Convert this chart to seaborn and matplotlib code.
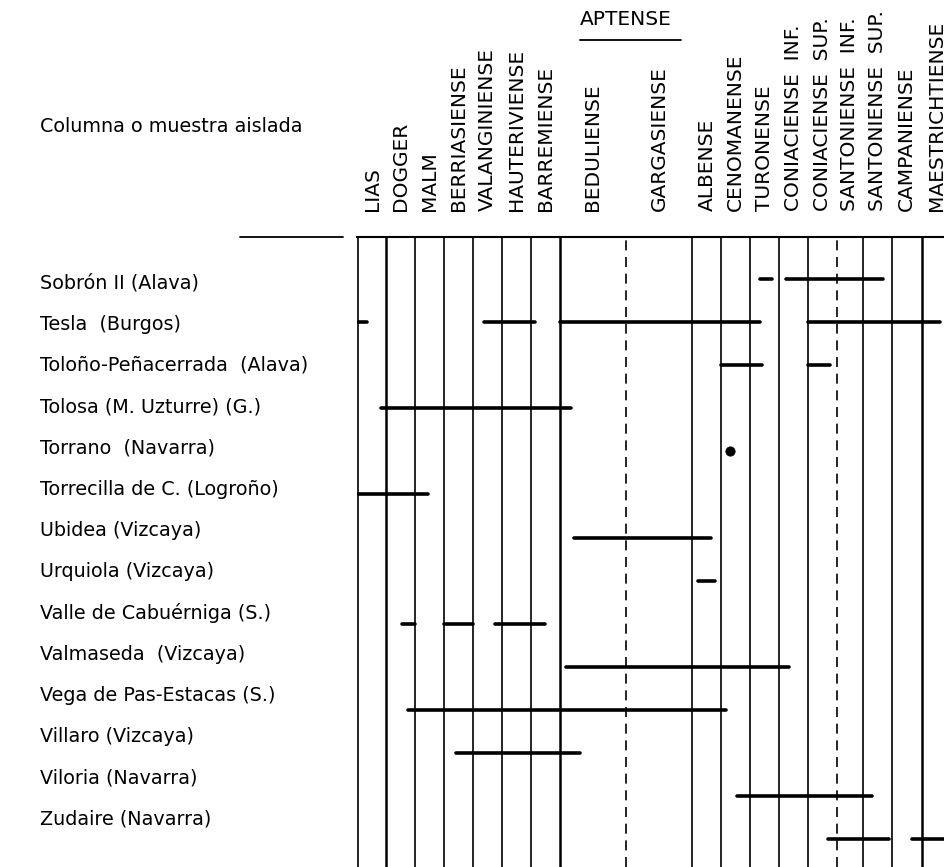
import numpy as np
import pandas as pd
import seaborn as sns
from matplotlib import pyplot as plt

# stages (columns) and their relative widths
stages = ['LIAS', 'DOGGER', 'MALM', 'BERRIASIENSE', 'VALANGINIENSE',
          'HAUTERIVIENSE', 'BARREMIENSE', 'BEDULIENSE', 'GARGASIENSE',
          'ALBENSE', 'CENOMANENSE', 'TURONENSE', 'CONIACIENSE  INF.',
          'CONIACIENSE  SUP.', 'SANTONIENSE  INF.', 'SANTONIENSE  SUP.',
          'CAMPANIENSE', 'MAESTRICHTIENSE']
stage_width = [1, 1, 1, 1, 1, 1, 1, 2.3, 2.3, 1, 1, 1, 1, 1, 0.9, 1, 1.05, 1]

sites = ['Sobrón II (Alava)', 'Tesla  (Burgos)', 'Toloño-Peñacerrada  (Alava)',
         'Tolosa (M. Uzturre) (G.)', 'Torrano  (Navarra)',
         'Torrecilla de C. (Logroño)', 'Ubidea (Vizcaya)', 'Urquiola (Vizcaya)',
         'Valle de Cabuérniga (S.)', 'Valmaseda  (Vizcaya)',
         'Vega de Pas-Estacas (S.)', 'Villaro (Vizcaya)', 'Viloria (Navarra)',
         'Zudaire (Navarra)']

# range segments: site index, start, end (in stage units)
seg_site = [0, 0, 1, 1, 1, 1, 2, 2, 3, 5, 6, 7, 8, 8, 8, 9, 10, 11, 12, 13, 13]
seg_start = [13.93, 14.84, 0.0, 4.38, 7.0, 15.6, 12.6, 15.6, 0.80, 0.0, 7.50,
             11.78, 1.53, 3.0, 4.75, 7.21, 1.74, 3.40, 13.16, 16.3, 19.2]
seg_end = [14.36, 18.2, 0.32, 6.14, 13.94, 20.17, 14.0, 16.37, 7.38, 2.45, 12.26,
           12.38, 2.0, 4.0, 6.51, 14.93, 12.78, 7.70, 17.83, 18.4, 20.35]

# isolated sample points
dot_site = [4]
dot_x = [12.91]

bounds = np.concatenate([[0], np.cumsum(stage_width)])
centers = (bounds[:-1] + bounds[1:]) / 2
dashed = [8, 14]
thick = [1, 7, 17]

seg_df = pd.DataFrame({
    'x': np.ravel(np.column_stack([seg_start, seg_end])),
    'site': np.repeat(seg_site, 2),
    'seg': np.repeat(np.arange(len(seg_site)), 2),
})
dot_df = pd.DataFrame({'x': dot_x, 'site': dot_site})

sns.set_theme(style='white')
plt.rcParams['font.family'] = ['DejaVu Sans']
plt.rcParams['text.color'] = 'black'
plt.rcParams['xtick.color'] = 'black'

fig = plt.figure(figsize=(9.45, 8.67), dpi=100)
ax = fig.add_axes([357 / 945, 0, 1 - 357 / 945, 630 / 867])
ax_lab = fig.add_axes([0, 0, 357 / 945, 630 / 867])

# grid lines between stages
for k, b in enumerate(bounds[:-1]):
    ax.axvline(b, color='black', clip_on=False,
               lw=1.8 if k in thick else 1.2,
               ls=(0, (6, 4)) if k in dashed else '-')

sns.lineplot(data=seg_df, x='x', y='site', units='seg', estimator=None,
             sort=False, color='black', lw=2.6, ax=ax, legend=False)
sns.scatterplot(data=dot_df, x='x', y='site', color='black', s=45,
                edgecolor='black', ax=ax, legend=False)

ax.set_xlim(-0.02, 20.35)
ax.set_ylim(13.643, -0.9745)
ax.set_xlabel('')
ax.set_ylabel('')
ax.set_yticks([])
ax.xaxis.tick_top()
ax.set_xticks(centers)
ax.set_xticklabels(stages, rotation=90, fontsize=14.5, color='black')
ax.tick_params(axis='x', length=0, pad=19)
for side in ['left', 'right', 'bottom']:
    ax.spines[side].set_visible(False)
ax.spines['top'].set_linewidth(1.5)
ax.spines['top'].set_color('black')

# APTENSE group header
apt = bounds[8]
trans = ax.get_xaxis_transform()
ax.text(apt, 1.345, 'APTENSE', transform=trans, ha='center', va='center',
        fontsize=14.5)
ax.plot([7.71, 11.19], [1.313, 1.313], transform=trans, color='black',
        lw=1.3, clip_on=False)

# site labels
ax_lab.set_xlim(0, 1)
ax_lab.set_ylim(14.158, -1.115)
for i, name in enumerate(sites):
    ax_lab.text(40 / 357, i, name, ha='left', va='center', fontsize=13.8)
ax_lab.text(40 / 357, 1.175, 'Columna o muestra aislada', transform=ax_lab.transAxes,
            ha='left', va='center', fontsize=13.8)
ax_lab.plot([240 / 357, 343 / 357], [1.0, 1.0], transform=ax_lab.transAxes,
            color='black', lw=1.3, clip_on=False)
ax_lab.axis('off')

fig.savefig('out.png', dpi=100)
